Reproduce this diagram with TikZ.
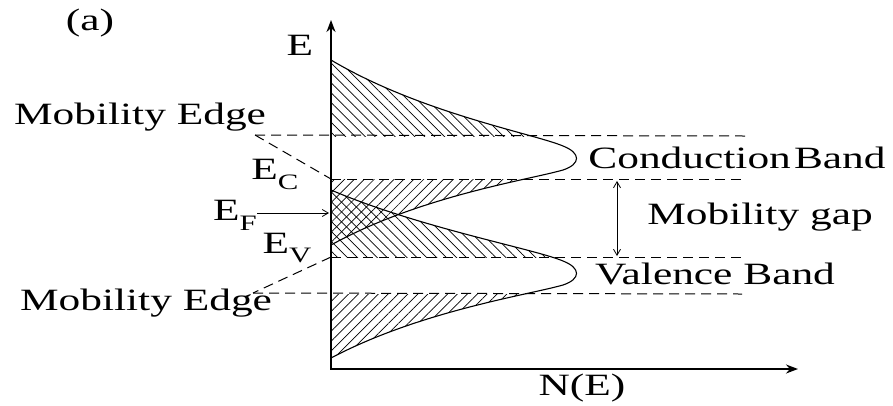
\documentclass[tikz,border=0pt]{standalone}
\usepackage{fontspec}
\setmainfont{Liberation Serif}[FakeStretch=1.4]
\usetikzlibrary{arrows.meta, patterns.meta, positioning, calc}

\newcommand{\lowsub}[1]{\raisebox{-0.32em}{\fontsize{22}{22}\selectfont #1}}
% band outline: #1 = centre height, #2 = upper tail length, #3 = lower tail length
\newcommand{\bandpath}[3]{(331,#1-#2) .. controls (420,#1-45) and (535,#1-24) .. (563,#1-12) .. controls (581,#1-5) and (581,#1+6) .. (563,#1+12) .. controls (528,#1+22) and (420,#1+38) .. (331,#1+#3)}

\tikzset{
  lbl/.style={font=\fontsize{31}{33}\selectfont, inner sep=0pt},
  axisline/.style={line width=1.8pt, {Stealth[length=12pt, width=9pt]}-{Stealth[length=12pt, width=9pt]}},
  edgeline/.style={dash pattern=on 10pt off 6pt, line width=1pt},
  bandline/.style={line width=1.1pt},
  hatchup/.style={pattern={Lines[angle=-45, distance=7pt, line width=0.7pt]}},
  hatchdown/.style={pattern={Lines[angle=45, distance=7pt, line width=0.7pt]}},
  barb/.tip={Straight Barb[length=6pt, width=7pt]},
  thinarrow/.style={line width=0.8pt, -barb},
}

\begin{document}
\begin{tikzpicture}[x=1pt, y=-1pt]
  \fill[white] (0,0) rectangle (893,405);
  \useasboundingbox (0,0) rectangle (893,405);

  % Hatched tails (conduction band)
  \begin{scope}
    \clip \bandpath{158}{98}{87} -- cycle;
    \fill[hatchup] (331,0) rectangle (600,136);
    \fill[hatchdown] (331,179) rectangle (600,300);
  \end{scope}
  % Hatched tails (valence band)
  \begin{scope}
    \clip \bandpath{273}{83}{85} -- cycle;
    \fill[hatchup] (331,150) rectangle (600,257);
    \fill[hatchdown] (331,294) rectangle (600,400);
  \end{scope}

  % Band curves
  \draw[bandline] \bandpath{158}{98}{87};
  \draw[bandline] \bandpath{273}{83}{85};

  % Axes
  \coordinate (etop) at (331,20);
  \coordinate (origin) at (331,369);
  \coordinate (nend) at (798,369);
  \draw[axisline] (etop) -- (origin) -- (nend);

  % Labels
  \node[lbl] (alabel) at (90,23) {(a)};
  \node[lbl] (elabel) at (300,45) {E};
  \node[lbl] (nlabel) at (582,388) {N(E)};
  \node[lbl] (medgeup) at (140,117) {Mobility Edge};
  \node[lbl] (medgelow) at (146,303) {Mobility Edge};
  \node[lbl] (eclabel) at (275,174) {E\lowsub{C}};
  \node[lbl] (eflabel) at (235,215) {E\lowsub{F}};
  \node[lbl] (evlabel) at (287,248) {E\lowsub{V}};
  \node[lbl] (cband) at (737,158) {Conduction\hspace{0.1em}Band};
  \node[lbl] (mgap) at (760,217) {Mobility gap};
  \node[lbl] (vband) at (715,274) {Valence Band};

  % Mobility edges
  \coordinate (meu) at (255,135);
  \coordinate (cbtopend) at (745,136);
  \coordinate (ecpt) at (331,179);
  \coordinate (cblowend) at (745,179);
  \coordinate (evpt) at (331,257);
  \coordinate (vbtopend) at (745,257);
  \coordinate (mel) at (253,293);
  \coordinate (vblowend) at (742,294);
  \draw[edgeline] (meu) -- (cbtopend);
  \draw[edgeline] (meu) -- (ecpt);
  \draw[edgeline] (ecpt) -- (cblowend);
  \draw[edgeline] (evpt) -- (vbtopend);
  \draw[edgeline] (evpt) -- (mel);
  \draw[edgeline] (mel) -- (vblowend);

  % Fermi level and mobility gap
  \coordinate (efpt) at (329,213);
  \draw[thinarrow] (eflabel.east |- efpt) -- (efpt);
  \coordinate (gaptop) at (617,181);
  \coordinate (gapbot) at (617,256);
  \draw[line width=0.8pt, barb-barb] (gaptop) -- (gapbot);
\end{tikzpicture}
\end{document}
